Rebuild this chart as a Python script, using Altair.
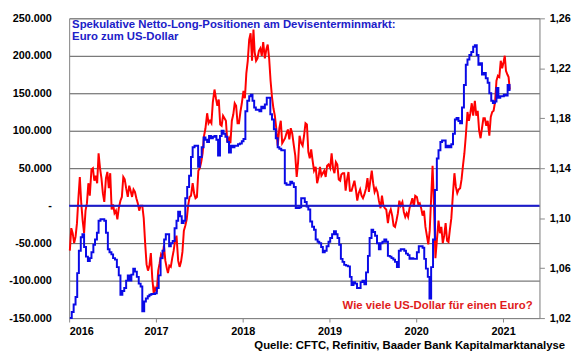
import calendar
import altair as alt
import pandas as pd

# ---- Blue: speculative net long positions EUR (thousands of contracts), weekly readings per month
blue_2016 = [[-150, -142, -132, -122], [-90, -60, -42, -38], [-55, -68, -74, -70], [-62, -52, -45, -36],
             [-20, -18, -18, -20], [-36, -58, -62, -65], [-70, -72, -82, -93], [-119, -114, -110, -100],
             [-93, -100, -92, -84], [-88, -95, -104, -108], [-141, -128, -124, -121], [-119, -118, -118, -117]]
blue_2017 = [[-110, -93, -70, -60], [-45, -38, -38, -54], [-50, -47, -30, -20], [-8, -14, -23, -20],
             [10, 25, 40, 65], [78, 80, 80, 52], [65, 78, 91, 88], [85, 93, 90, 92],
             [93, 88, 67, 93], [100, 96, 92, 85], [71, 80, 78, 80], [80, 82, 83, 86]]
blue_2018 = [[89, 126, 140, 146], [148, 140, 131, 128], [128, 126, 132, 130], [135, 144, 144, 122],
             [115, 102, 90, 78], [76, 74, 74, 30], [28, 28, 32, 30], [25, -3, -3, -2],
             [10, 10, 5, -1], [-5, -21, -28, -32], [-45, -48, -50, -55], [-62, -60, -54, -48]]
blue_2019 = [[-43, -38, -34, -38], [-43, -52, -71, -75], [-79, -80, -81, -95], [-106, -102, -104, -110],
             [-110, -102, -100, -105], [-89, -67, -43, -32], [-35, -40, -50, -58], [-50, -48, -45, -48],
             [-67, -68, -70, -72], [-75, -82, -60, -58], [-58, -60, -64, -66], [-71, -70, -71, -71]]
blue_2020 = [[-62, -54, -54, -56], [-71, -84, -95, -124], [-82, -45, 21, 63], [74, 85, 87, 87],
             [78, 80, 78, 82], [96, 115, 117, 113], [110, 131, 161, 188], [195, 201, 205, 212],
             [214, 201, 188, 190], [175, 177, 170, 164], [150, 140, 137, 139], [157, 144, 146, 146]]
blue_2021 = [[148, 147, 161, 153]]

# ---- Red: EUR/USD (US dollars per euro), several readings per month
red_2016 = [[1.074, 1.092, 1.088, 1.080, 1.085], [1.096, 1.116, 1.133, 1.112, 1.098],
            [1.088, 1.106, 1.112, 1.128, 1.118], [1.139, 1.140, 1.130, 1.134, 1.128],
            [1.152, 1.140, 1.132, 1.120, 1.113], [1.132, 1.137, 1.124, 1.136, 1.107],
            [1.111, 1.104, 1.106, 1.099, 1.108], [1.114, 1.117, 1.133, 1.131, 1.124],
            [1.117, 1.126, 1.122, 1.117, 1.123], [1.121, 1.116, 1.112, 1.106, 1.110],
            [1.110, 1.100, 1.080, 1.063, 1.058], [1.062, 1.072, 1.052, 1.040, 1.044]]
red_2017 = [[1.041, 1.058, 1.064, 1.071, 1.069], [1.078, 1.066, 1.060, 1.056, 1.062],
            [1.061, 1.068, 1.074, 1.082, 1.086], [1.066, 1.061, 1.065, 1.073, 1.090],
            [1.094, 1.099, 1.110, 1.117, 1.118], [1.128, 1.120, 1.116, 1.117, 1.138],
            [1.140, 1.145, 1.152, 1.166, 1.172], [1.184, 1.176, 1.178, 1.176, 1.193],
            [1.203, 1.196, 1.190, 1.195, 1.175], [1.174, 1.182, 1.180, 1.178, 1.161],
            [1.164, 1.160, 1.178, 1.183, 1.192], [1.190, 1.176, 1.176, 1.185, 1.192]]
red_2018 = [[1.202, 1.196, 1.216, 1.226, 1.243], [1.248, 1.226, 1.251, 1.233, 1.226],
            [1.228, 1.234, 1.236, 1.230, 1.241], [1.228, 1.235, 1.239, 1.228, 1.210],
            [1.197, 1.188, 1.182, 1.172, 1.158], [1.172, 1.178, 1.160, 1.162, 1.164],
            [1.168, 1.171, 1.163, 1.172, 1.168], [1.158, 1.150, 1.133, 1.145, 1.166],
            [1.160, 1.158, 1.166, 1.176, 1.175], [1.153, 1.148, 1.155, 1.146, 1.138],
            [1.141, 1.128, 1.133, 1.141, 1.134], [1.136, 1.138, 1.133, 1.142, 1.143]]
red_2019 = [[1.140, 1.152, 1.140, 1.136, 1.145], [1.143, 1.131, 1.130, 1.135, 1.136],
            [1.136, 1.122, 1.131, 1.137, 1.122], [1.122, 1.126, 1.130, 1.123, 1.114],
            [1.120, 1.123, 1.118, 1.116, 1.119], [1.124, 1.132, 1.121, 1.130, 1.138],
            [1.128, 1.121, 1.124, 1.121, 1.114], [1.108, 1.118, 1.110, 1.108, 1.107],
            [1.096, 1.104, 1.107, 1.102, 1.094], [1.093, 1.098, 1.104, 1.114, 1.110],
            [1.113, 1.105, 1.101, 1.104, 1.101], [1.108, 1.112, 1.116, 1.109, 1.118]]
red_2020 = [[1.117, 1.111, 1.112, 1.108, 1.102], [1.106, 1.093, 1.086, 1.079, 1.090],
            [1.116, 1.142, 1.110, 1.068, 1.082], [1.098, 1.088, 1.093, 1.080, 1.086],
            [1.096, 1.082, 1.081, 1.091, 1.100], [1.120, 1.136, 1.125, 1.120, 1.123],
            [1.124, 1.131, 1.142, 1.152, 1.166], [1.185, 1.178, 1.184, 1.192, 1.182],
            [1.194, 1.182, 1.186, 1.170, 1.164], [1.172, 1.180, 1.180, 1.174, 1.178],
            [1.166, 1.181, 1.185, 1.186, 1.193], [1.210, 1.214, 1.213, 1.226, 1.220]]
red_2021 = [[1.225, 1.230, 1.218, 1.215, 1.213, 1.203]]

years = [2016, 2017, 2018, 2019, 2020, 2021]
left_ticks = [-150, -100, -50, 0, 50, 100, 150, 200, 250]
right_ticks = [1.02, 1.06, 1.10, 1.14, 1.18, 1.22, 1.26]

title_line1 = "Spekulative Netto-Long-Positionen am Devisenterminmarkt:"
title_line2 = "Euro zum US-Dollar"
red_label = "Wie viele US-Dollar für einen Euro?"
source_label = "Quelle: CFTC, Refinitiv, Baader Bank Kapitalmarktanalyse"


def expand(year, months, col):
    rows = []
    for mi, vals in enumerate(months):
        m = mi + 1
        ndays = calendar.monthrange(year, m)[1]
        k = len(vals)
        for i, v in enumerate(vals):
            day = 1 + int((i + 0.5) * ndays / k)
            rows.append({"date": f"{year}-{m:02d}-{day:02d}", col: v})
    return rows


blue_rows, red_rows = [], []
for y, b, r in zip(years, [blue_2016, blue_2017, blue_2018, blue_2019, blue_2020, blue_2021],
                   [red_2016, red_2017, red_2018, red_2019, red_2020, red_2021]):
    blue_rows += expand(y, b, "net")
    red_rows += expand(y, r, "fx")
df_blue = pd.DataFrame(blue_rows)
df_red = pd.DataFrame(red_rows)

FONT = "Liberation Sans"
BLUE = "#0a0ae6"
RED = "#ff0000"

x_enc = alt.X(
    "date:T",
    scale=alt.Scale(type="utc", domain=[alt.DateTime(year=2016, month=1, date=1, utc=True),
                                        alt.DateTime(year=2021, month=6, date=3, utc=True)]),
    axis=alt.Axis(values=[alt.DateTime(year=y, month=1, date=1, utc=True) for y in years],
                  labelExpr="utcFormat(datum.value, '%Y')", grid=False, tickSize=4,
                  tickColor="#888888", domainColor="#888888", labelFont=FONT, labelFontSize=11,
                  labelFontWeight="bold", labelColor="#000000", labelPadding=4, title=None),
)

blue_scale = alt.Scale(domain=[-150, 250], nice=False, zero=False)

red = alt.Chart(df_red).mark_line(color=RED, strokeWidth=2).encode(
    x=x_enc,
    y=alt.Y("fx:Q", scale=alt.Scale(domain=[1.02, 1.26], nice=False, zero=False),
            axis=alt.Axis(orient="right", values=right_ticks, grid=False,
                          labelExpr="replace(format(datum.value, '.2f'), '.', ',')",
                          tickSize=5, tickColor="#888888", domainColor="#888888",
                          labelFont=FONT, labelFontSize=11, labelFontWeight="bold",
                          labelColor="#000000", labelPadding=5, title=None)),
)

blue = alt.Chart(df_blue).mark_line(color=BLUE, strokeWidth=2, interpolate="step-after").encode(
    x=x_enc,
    y=alt.Y("net:Q", scale=blue_scale,
            axis=alt.Axis(orient="left", values=left_ticks, grid=True, gridColor="#555555",
                          gridWidth=1, ticks=False, domainColor="#888888",
                          labelExpr="datum.value == 0 ? '-' : (datum.value < 0 ? '-' : '') + "
                                    "replace(format(abs(datum.value) * 1000, ','), ',', '.')",
                          labelFont=FONT, labelFontSize=11, labelFontWeight="bold",
                          labelColor="#000000", labelPadding=18, title=None)),
)

zero = alt.Chart(pd.DataFrame({"net": [0]})).mark_rule(color="#1a1ad0", strokeWidth=2).encode(
    y=alt.Y("net:Q", scale=blue_scale, axis=None)
)


def label(text, x, y, color, align="left"):
    return alt.Chart(pd.DataFrame({"t": [text]})).mark_text(
        font=FONT, fontSize=11.5, fontWeight="bold", color=color, align=align, baseline="middle"
    ).encode(x=alt.value(x), y=alt.value(y), text="t:N")


texts = [
    label(title_line1, 3, 7, "#2020c8"),
    label(title_line2, 3, 19, "#2020c8"),
    label(red_label, 470, 292, "#e01b1b", align="right"),
    label(source_label, 503, 332, "#000000", align="right"),
]

chart = alt.layer(red, blue, zero, *texts).resolve_scale(y="independent").properties(
    width=477, height=304,
    padding={"left": 62, "top": 8, "right": 33, "bottom": 38},
    autosize=alt.AutoSizeParams(type="none"),
).configure_view(strokeWidth=0).configure(font=FONT)

chart.save("out.html", embed_options={"renderer": "svg", "actions": False})
